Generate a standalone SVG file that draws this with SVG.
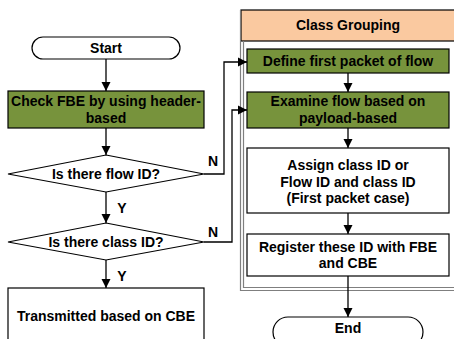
<svg xmlns="http://www.w3.org/2000/svg" width="454" height="339" viewBox="0 0 454 339">
<defs>
<marker id="ah" markerWidth="10" markerHeight="10" refX="9" refY="5" orient="auto" markerUnits="userSpaceOnUse">
<path d="M0,0.5 L9,5 L0,9.5 Z" fill="#000"/>
</marker>
<style>
text{font-family:"Liberation Sans",Arial,sans-serif;font-weight:bold;font-size:14px;fill:#000;text-anchor:middle}
.box{fill:#fff;stroke:#000;stroke-width:1.2}
.green{fill:#77933C;stroke:#000;stroke-width:1.2}
.term{fill:#fff;stroke:#000;stroke-width:1.2}
.con{fill:none;stroke:#000;stroke-width:1.3;marker-end:url(#ah)}
.line{fill:none;stroke:#000;stroke-width:1.3}
.frame{fill:none;stroke:#7f7f7f;stroke-width:1.2}
</style>
</defs>
<rect width="454" height="339" fill="#fff"/>

<g id="class-grouping">
<rect x="241" y="10" width="214" height="31" fill="#FAC9A0" stroke="#000" stroke-width="1.2"/>
<path class="frame" d="M240.5,10 V290.5 H455"/>
<path class="frame" d="M243.5,41 V287.5 H455"/>
<text x="348" y="30">Class Grouping</text>
</g>

<g id="start">
<rect class="term" x="32" y="37" width="148" height="22" rx="11"/>
<text x="106" y="53">Start</text>
</g>
<g id="check-fbe">
<rect class="green" x="8" y="91" width="196" height="37"/>
<text x="106" y="106">Check FBE by using header-</text>
<text x="106" y="123">based</text>
</g>
<g id="flow-id">
<polygon class="box" points="106,155 204,174 106,192 8,174"/>
<text x="106" y="179">Is there flow ID?</text>
</g>
<g id="class-id">
<polygon class="box" points="106,223 204,242 106,260 8,242"/>
<text x="106" y="247">Is there class ID?</text>
</g>
<g id="transmitted">
<rect class="box" x="8" y="288" width="196" height="60"/>
<text x="106" y="321">Transmitted based on CBE</text>
</g>
<g id="define">
<rect class="green" x="247" y="49" width="202" height="24"/>
<text x="348" y="66">Define first packet of flow</text>
</g>
<g id="examine">
<rect class="green" x="247" y="92" width="202" height="36"/>
<text x="348" y="106">Examine flow based on</text>
<text x="348" y="123">payload-based</text>
</g>
<g id="assign">
<rect class="box" x="247" y="148" width="202" height="65"/>
<text x="348" y="170">Assign class ID or</text>
<text x="348" y="187">Flow ID and class ID</text>
<text x="348" y="203">(First packet case)</text>
</g>
<g id="register">
<rect class="box" x="247" y="234" width="202" height="42"/>
<text x="348" y="252">Register these ID with FBE</text>
<text x="348" y="268">and CBE</text>
</g>
<g id="end">
<rect class="term" x="273" y="317" width="150" height="30" rx="15"/>
<text x="348" y="333">End</text>
</g>

<g id="connectors">
<path class="con" d="M106,59 V91"/>
<path class="con" d="M106,128 V155"/>
<path class="con" d="M106,192 V223"/>
<path class="con" d="M106,260 V288"/>
<path class="con" d="M204,174 H224 V62 H247"/>
<path class="con" d="M204,242 H232 V110 H247"/>
<path class="con" d="M348,73 V92"/>
<path class="con" d="M348,128 V148"/>
<path class="con" d="M348,213 V234"/>
<path class="con" d="M348,276 V317"/>
<text x="213" y="166">N</text>
<text x="213" y="237">N</text>
<text x="122" y="213">Y</text>
<text x="122" y="281">Y</text>
</g>
</svg>
